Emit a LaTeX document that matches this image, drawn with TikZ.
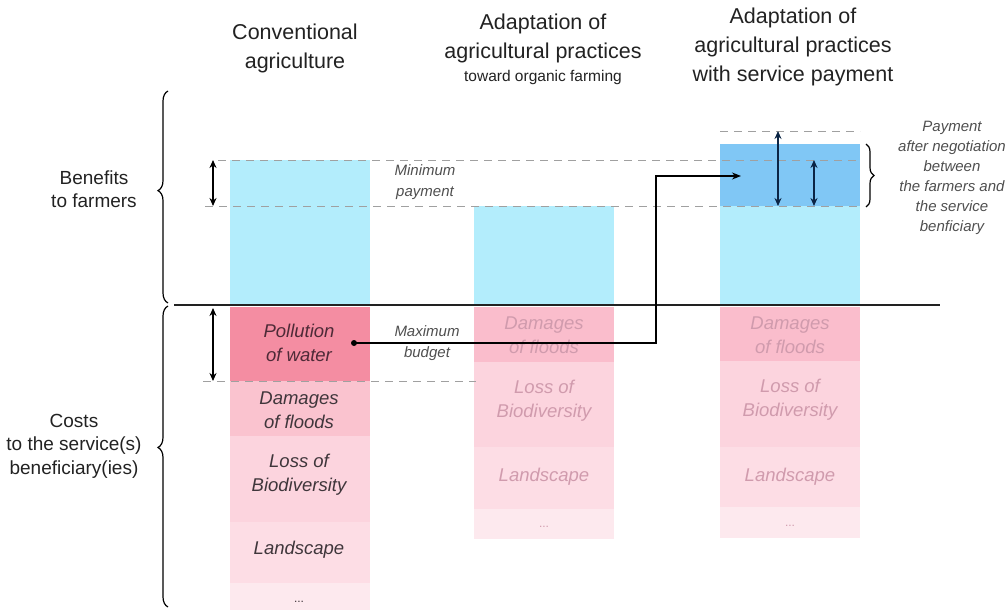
\documentclass[tikz,border=0pt]{standalone}
\usepackage{fontspec}
\setmainfont{Liberation Sans}
\usetikzlibrary{arrows.meta,decorations.pathreplacing}
\definecolor{lblue}{HTML}{B3EDFC}
\definecolor{dblue}{HTML}{80C7F5}
\definecolor{poll}{HTML}{F48DA2}
\definecolor{dmgA}{HTML}{FAC3CF}
\definecolor{dmgB}{HTML}{FABDCC}
\definecolor{lossc}{HTML}{FCD4DE}
\definecolor{landc}{HTML}{FDDDE5}
\definecolor{dotsc}{HTML}{FDE9EE}
\definecolor{titlec}{HTML}{222222}
\definecolor{darktxt}{HTML}{3F363B}
\definecolor{polltxt}{HTML}{4E2A37}
\definecolor{fadetxt}{HTML}{D09BAD}
\definecolor{notec}{HTML}{4F4F4F}
\definecolor{guidec}{HTML}{A0A0A0}
\definecolor{navy}{HTML}{0B2545}
\begin{document}
\begin{tikzpicture}[x=1pt,y=-1pt,
  title/.style={font=\fontsize{21.5}{29}\selectfont, align=center, text=titlec, inner sep=0pt},
  subtitle/.style={font=\fontsize{15.5}{18}\selectfont, align=center, text=titlec, inner sep=0pt},
  sidelbl/.style={font=\fontsize{19}{23.5}\selectfont, align=center, text=titlec, inner sep=0pt},
  barA/.style={font=\fontsize{18.5}{24}\selectfont\itshape, align=center, text=darktxt, inner sep=0pt},
  barF/.style={font=\fontsize{18.5}{24}\selectfont\itshape, align=center, text=fadetxt, inner sep=0pt},
  dotsA/.style={font=\fontsize{12}{14}\selectfont, text=darktxt, inner sep=0pt},
  dotsF/.style={font=\fontsize{12}{14}\selectfont, text=fadetxt, inner sep=0pt},
  note/.style={font=\fontsize{15}{21}\selectfont\itshape, align=center, text=notec, inner sep=0pt},
  guide/.style={draw=guidec, line width=0.9pt, dash pattern=on 8pt off 6pt},
  dbl/.style={{Stealth[length=8pt,width=7pt]}-{Stealth[length=8pt,width=7pt]}, line width=1.5pt},
  conn/.style={-{Stealth[length=9pt,width=7pt]}, line width=1.2pt, draw=black},
  bracestyle/.style={decorate, line width=1.2pt, draw=black}
]
\useasboundingbox (0,0) rectangle (1005,610);

% ---------- bars: column 1 ----------
\fill[lblue] (230,160) rectangle (370,304);
\fill[poll]  (230,307) rectangle (370,381);
\fill[dmgA]  (230,381) rectangle (370,436);
\fill[lossc] (230,436) rectangle (370,522);
\fill[landc] (230,522) rectangle (370,583);
\fill[dotsc] (230,583) rectangle (370,610);
% ---------- bars: column 2 ----------
\fill[lblue] (474,206) rectangle (614,304);
\fill[dmgB]  (474,307) rectangle (614,362);
\fill[lossc] (474,362) rectangle (614,447);
\fill[landc] (474,447) rectangle (614,509);
\fill[dotsc] (474,509) rectangle (614,539);
% ---------- bars: column 3 ----------
\fill[dblue] (720,144) rectangle (860,206);
\fill[lblue] (720,206) rectangle (860,304);
\fill[dmgB]  (720,307) rectangle (860,361);
\fill[lossc] (720,361) rectangle (860,447);
\fill[landc] (720,447) rectangle (860,507);
\fill[dotsc] (720,507) rectangle (860,538);

% ---------- dashed guides ----------
\draw[guide] (218,160) -- (860,160);
\draw[guide] (205,206) -- (860,206);
\draw[guide] (203,381) -- (476,381);
\draw[guide] (720,131) -- (860,131);

% ---------- axis line ----------
\draw[line width=1.5pt, draw=titlec] (174,305) -- (940,305);

% ---------- titles ----------
\node[title] (t1) at (295,48) {Conventional\\agriculture};
\node[title] (t2) at (543,38) {Adaptation of\\agricultural practices};
\node[subtitle] (t2s) at (543,77) {toward organic farming};
\node[title] (t3) at (793,47) {Adaptation of\\agricultural practices\\with service payment};

% ---------- side labels ----------
\node[sidelbl] (ben) at (94,189) {Benefits\\to farmers};
\node[sidelbl] (cost) at (74,446) {Costs\\to the service(s)\\beneficiary(ies)};
\draw[bracestyle, decoration={brace, amplitude=10pt, aspect=0.53}] (168,303) -- (168,91);
\draw[bracestyle, decoration={brace, amplitude=10pt, aspect=0.53}] (168,607) -- (168,306);

% ---------- bar texts column 1 ----------
\node[barA, text=polltxt] (pw1) at (299,343) {Pollution\\of water};
\node[barA] (df1) at (299,410) {Damages\\of floods};
\node[barA] (lb1) at (299,475) {Loss of\\Biodiversity};
\node[barA] (ls1) at (299,550) {Landscape};
\node[dotsA] (dd1) at (299,602) {...};
% ---------- bar texts column 2 ----------
\node[barF] (df2) at (544,335.5) {Damages\\of floods};
\node[barF] (lb2) at (544,401) {Loss of\\Biodiversity};
\node[barF] (ls2) at (544,477) {Landscape};
\node[dotsF] (dd2) at (544,527) {...};
% ---------- bar texts column 3 ----------
\node[barF] (df3) at (790,335) {Damages\\of floods};
\node[barF] (lb3) at (790,400) {Loss of\\Biodiversity};
\node[barF] (ls3) at (790,477) {Landscape};
\node[dotsF] (dd3) at (790,526) {...};

% ---------- notes ----------
\node[note] (minp) at (425,182.5) {Minimum\\payment};
\node[note] (maxb) at (427,343) {Maximum\\budget};
\node[note, font=\fontsize{15}{20}\selectfont\itshape] (pay) at (952,178) {Payment\\after negotiation\\between\\the farmers and\\the service\\benficiary};

% ---------- double arrows ----------
\coordinate (a1t) at (213,160); \coordinate (a1b) at (213,206);
\coordinate (a2t) at (213,308); \coordinate (a2b) at (213,381);
\coordinate (a3t) at (778,131); \coordinate (a3b) at (778,206);
\coordinate (a4t) at (814,160); \coordinate (a4b) at (814,206);
\draw[dbl, draw=black] (a1t) -- (a1b);
\draw[dbl, draw=black] (a2t) -- (a2b);
\draw[dbl, draw=navy] (a3t) -- (a3b);
\draw[dbl, draw=navy] (a4t) -- (a4b);

% ---------- right brace ----------
\draw[bracestyle, decoration={brace, amplitude=8pt}] (866,144) -- (866,207);

% ---------- elbow connector ----------
\node[circle, fill=black, inner sep=0pt, minimum size=6pt] (dot) at (354,343) {};
\coordinate (bend) at (656,343);
\coordinate (target) at (741,176);
\draw[conn] (dot.center) -- (bend) |- (target);
\end{tikzpicture}
\end{document}
